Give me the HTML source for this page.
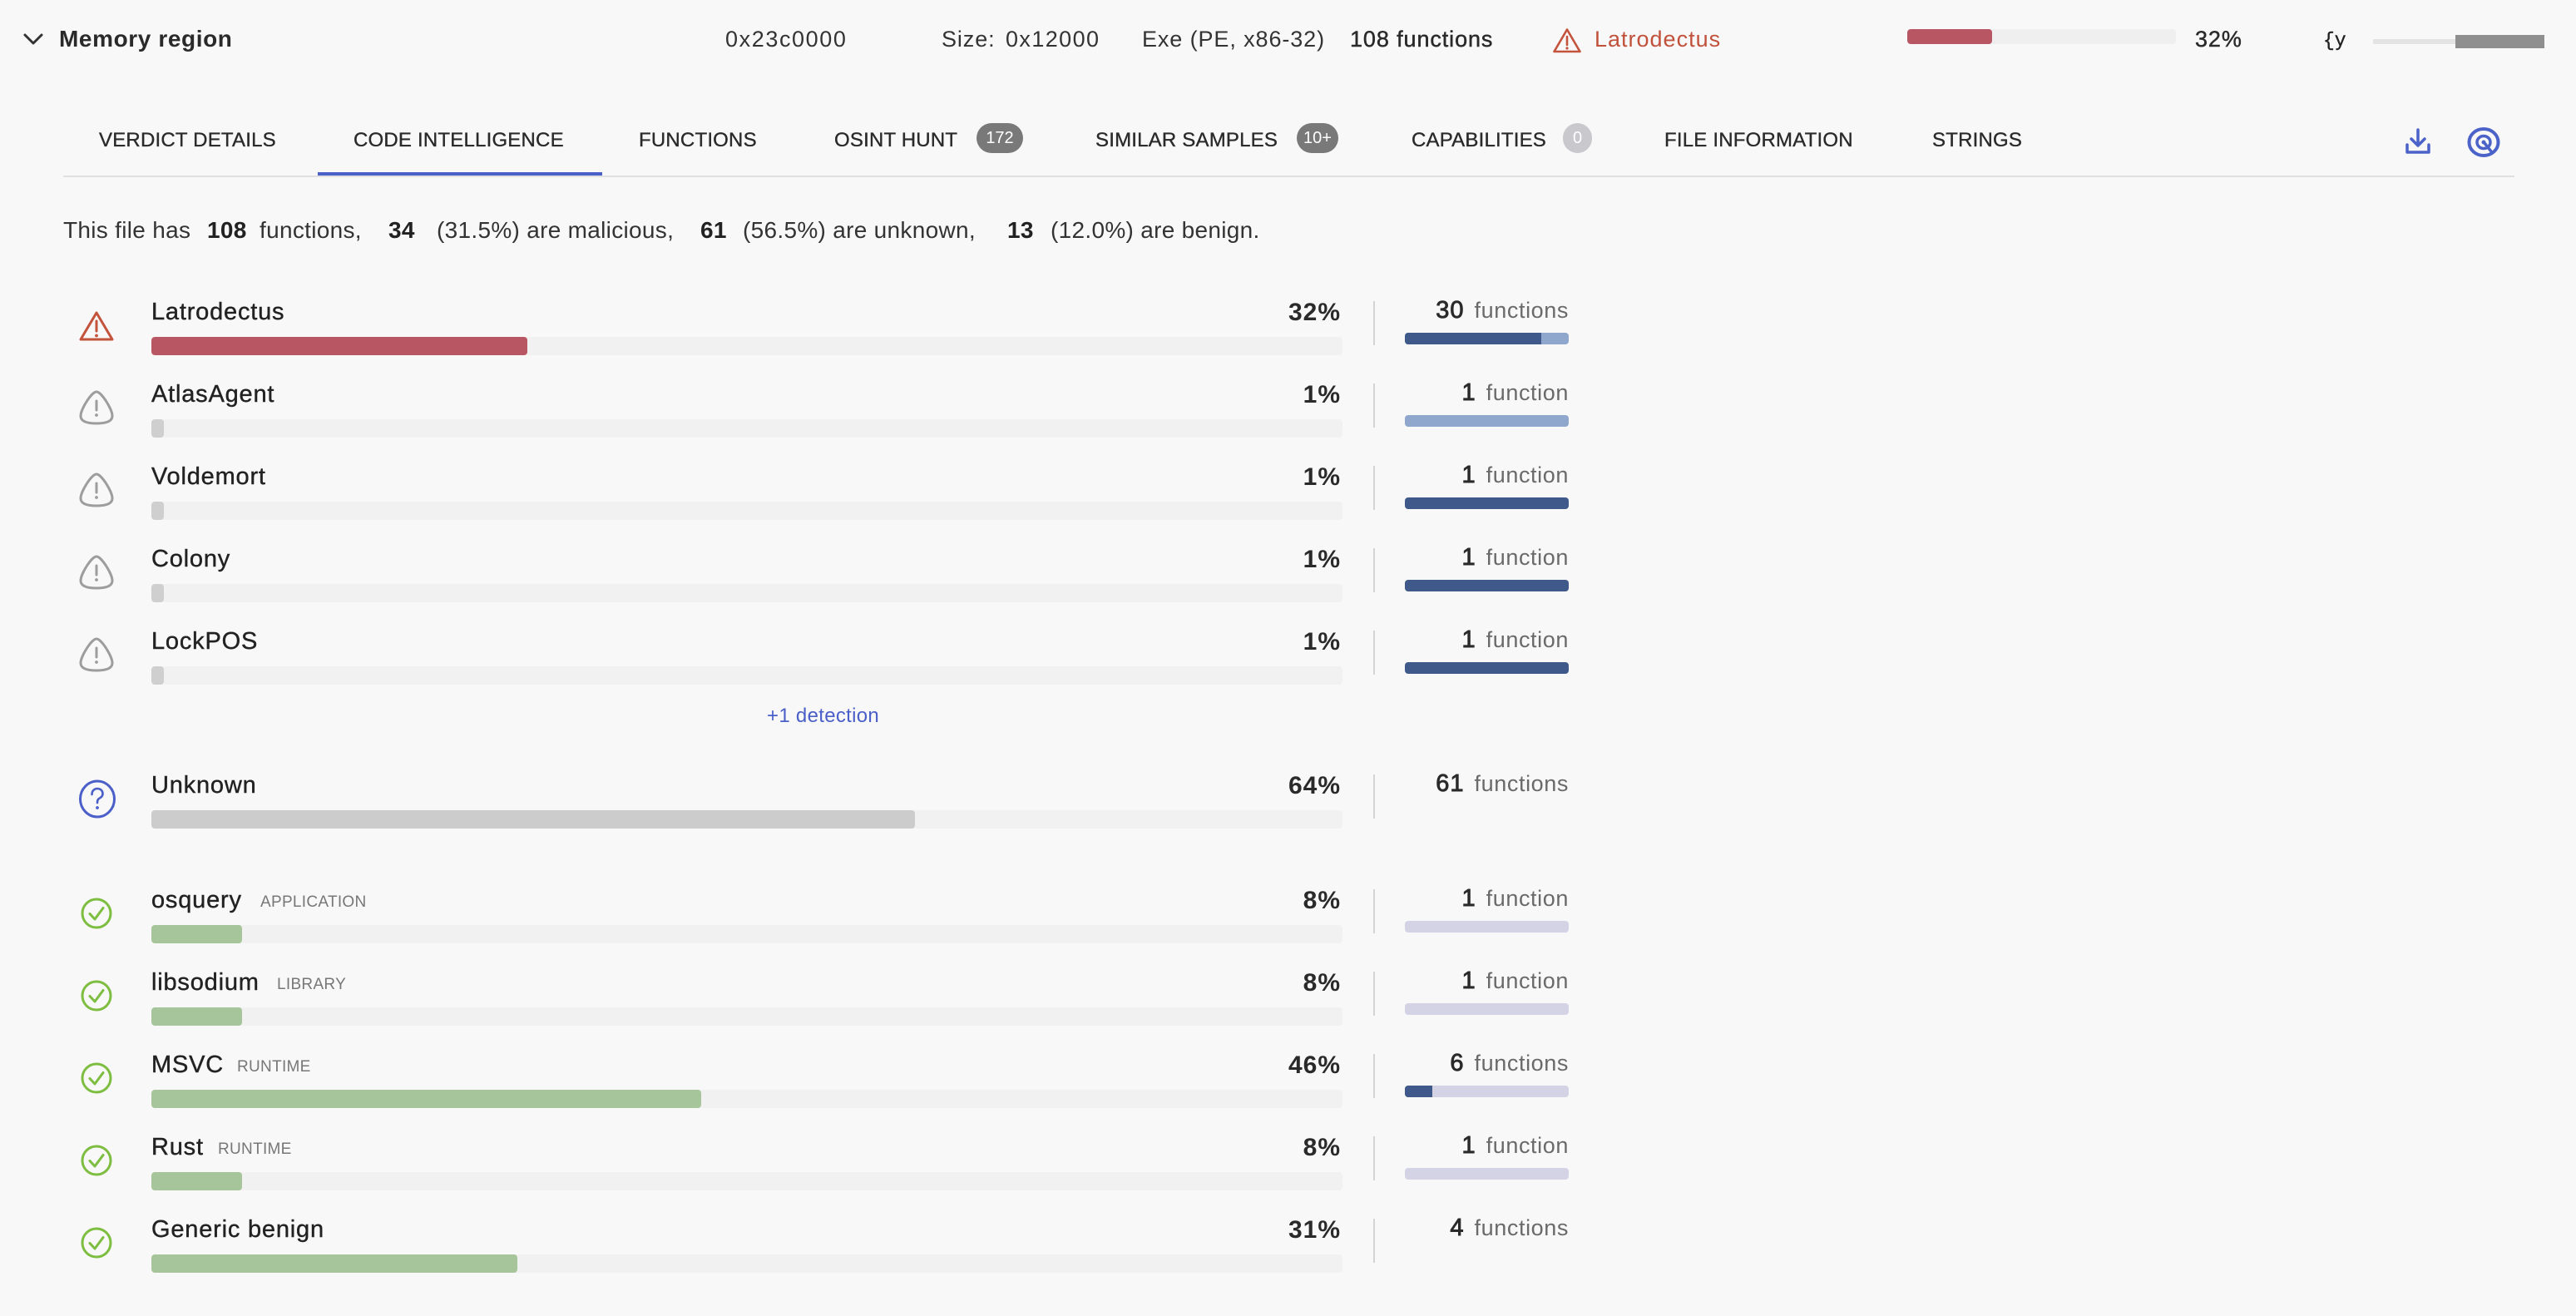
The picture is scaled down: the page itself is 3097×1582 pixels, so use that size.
<!DOCTYPE html>
<html><head><meta charset="utf-8">
<style>
html,body{margin:0;padding:0}
body{width:3097px;height:1582px;background:#f8f8f8;position:relative;overflow:hidden;font-family:"Liberation Sans",Arial,sans-serif;color:#2b2b2b}
.t{position:absolute;line-height:1;white-space:nowrap}
.m{-webkit-text-stroke:0.45px currentColor}
.hd{font-size:27px;letter-spacing:0.9px;color:#333;top:34px}
.tab{font-size:24px;top:157px;color:#2a2a2a;-webkit-text-stroke:0.35px #2a2a2a;letter-spacing:0.2px}
.badge{position:absolute;top:148px;height:36px;border-radius:18px;background:#797979;color:#fff;font-size:20px;line-height:36px;text-align:center}
.sum{font-size:28px;top:263px;color:#333;letter-spacing:0.3px}
.sum b{font-weight:bold;color:#222}
.name{font-size:29px;left:182px;color:#222;letter-spacing:0.8px;-webkit-text-stroke:0.4px #222}
.tag{font-size:19px;color:#777;letter-spacing:0.3px}
.pct{font-size:30px;font-weight:bold;right:1485px;color:#2a2a2a;letter-spacing:1px}
.track{position:absolute;left:182px;width:1432px;height:22px;background:#f1f1f1;border-radius:4px;overflow:hidden}
.fill{position:absolute;left:0;top:0;height:22px;border-radius:4px}
.div{position:absolute;left:1651px;width:2px;height:53px;background:#d4d4d4}
.cnt{position:absolute;right:1211px;font-size:29px;line-height:29px;white-space:nowrap;color:#2a2a2a}
.cnt .n{-webkit-text-stroke:0.9px #2a2a2a;letter-spacing:1px}
.cnt .f{font-size:27px;color:#6a6a6a;margin-left:12px;letter-spacing:0.6px}
.fb{position:absolute;left:1689px;width:197px;height:14px;border-radius:4px;overflow:hidden}
.fb i{position:absolute;left:0;top:0;height:14px;display:block}
.ic{position:absolute}
</style></head><body>

<!-- Header row -->
<svg class="ic" style="left:28px;top:39px" width="24" height="16" viewBox="0 0 24 16"><polyline points="2,3 12,13 22,3" fill="none" stroke="#333" stroke-width="3" stroke-linecap="round" stroke-linejoin="round"/></svg>
<div class="t" style="left:71px;top:33px;font-size:28px;font-weight:bold;color:#2a2a2a;letter-spacing:0.6px">Memory region</div>
<div class="t hd" style="left:872px;letter-spacing:1.6px">0x23c0000</div>
<div class="t hd" style="left:1132px">Size:</div>
<div class="t hd" style="left:1209px;letter-spacing:1.4px">0x12000</div>
<div class="t hd" style="left:1373px">Exe (PE, x86-32)</div>
<div class="t hd m" style="left:1623px;color:#2a2a2a">108 functions</div>
<svg class="ic" style="left:1866px;top:33px" width="36" height="31" viewBox="0 0 36 31"><path d="M18 2.5 L33.5 29 L2.5 29 Z" fill="none" stroke="#c4533b" stroke-width="2.6" stroke-linejoin="round"/><line x1="18" y1="11" x2="18" y2="21" stroke="#c4533b" stroke-width="2.6" stroke-linecap="round"/><circle cx="18" cy="25" r="1.6" fill="#c4533b"/></svg>
<div class="t hd" style="left:1917px;color:#c2513c;letter-spacing:1px">Latrodectus</div>
<div style="position:absolute;left:2293px;top:35px;width:323px;height:18px;background:#efefef;border-radius:4px;overflow:hidden"><div style="width:102px;height:18px;background:#b85763;border-radius:4px"></div></div>
<div class="t hd m" style="left:2639px;color:#2a2a2a">32%</div>
<div class="t" style="left:2793px;top:38px;font-size:23px;font-family:'Liberation Mono',monospace;color:#222;-webkit-text-stroke:0.4px #222">{y</div>
<div style="position:absolute;left:2853px;top:47px;width:100px;height:6px;background:#e3e3e3"></div>
<div style="position:absolute;left:2952px;top:42px;width:107px;height:16px;background:#8f8f8f"></div>

<!-- Tabs -->
<div class="t tab" style="left:119px">VERDICT DETAILS</div>
<div class="t tab" style="left:425px">CODE INTELLIGENCE</div>
<div class="t tab" style="left:768px">FUNCTIONS</div>
<div class="t tab" style="left:1003px">OSINT HUNT</div>
<div class="badge" style="left:1174px;width:56px">172</div>
<div class="t tab" style="left:1317px">SIMILAR SAMPLES</div>
<div class="badge" style="left:1559px;width:50px">10+</div>
<div class="t tab" style="left:1697px">CAPABILITIES</div>
<div class="badge" style="left:1879px;width:35px;background:#c8c8cd">0</div>
<div class="t tab" style="left:2001px">FILE INFORMATION</div>
<div class="t tab" style="left:2323px">STRINGS</div>
<svg class="ic" style="left:2890px;top:153px" width="34" height="34" viewBox="0 0 34 34"><path d="M4 21 V30 H30 V21" fill="none" stroke="#4b63c9" stroke-width="3.5" stroke-linecap="round" stroke-linejoin="round"/><line x1="17" y1="3" x2="17" y2="21" stroke="#4b63c9" stroke-width="3.5" stroke-linecap="round"/><polyline points="9,14 17,22 25,14" fill="none" stroke="#4b63c9" stroke-width="3.5" stroke-linecap="round" stroke-linejoin="round"/></svg>
<svg class="ic" style="left:2965px;top:152px" width="42" height="38" viewBox="0 0 42 38"><ellipse cx="21" cy="19" rx="17.5" ry="16" fill="none" stroke="#4b63c9" stroke-width="4"/><ellipse cx="21" cy="19" rx="8" ry="7.5" fill="none" stroke="#4b63c9" stroke-width="3.5"/><circle cx="21" cy="19" r="2.5" fill="#4b63c9"/><line x1="22" y1="20" x2="30" y2="30" stroke="#4b63c9" stroke-width="3.5" stroke-linecap="round"/></svg>
<div style="position:absolute;left:76px;top:211px;width:2947px;height:2px;background:#e0e0e0"></div>
<div style="position:absolute;left:382px;top:207px;width:342px;height:4px;background:#4a5fc8"></div>

<!-- Summary -->
<div class="t sum" style="left:76px">This file has</div>
<div class="t sum" style="left:249px"><b>108</b></div>
<div class="t sum" style="left:312px">functions,</div>
<div class="t sum" style="left:467px"><b>34</b></div>
<div class="t sum" style="left:525px">(31.5%) are malicious,</div>
<div class="t sum" style="left:842px"><b>61</b></div>
<div class="t sum" style="left:893px">(56.5%) are unknown,</div>
<div class="t sum" style="left:1211px"><b>13</b></div>
<div class="t sum" style="left:1263px">(12.0%) are benign.</div>

<!-- Row: Latrodectus B=405 -->
<svg class="ic" style="left:94px;top:373px" width="44" height="38" viewBox="0 0 44 38"><path d="M22 3 L41 35 L3 35 Z" fill="none" stroke="#c4533b" stroke-width="3" stroke-linejoin="round"/><line x1="22" y1="13" x2="22" y2="25" stroke="#c4533b" stroke-width="3" stroke-linecap="round"/><circle cx="22" cy="30.5" r="1.9" fill="#c4533b"/></svg>
<div class="t name" style="top:361px">Latrodectus</div>
<div class="t pct" style="top:361px">32%</div>
<div class="track" style="top:405px"><div class="fill" style="width:452px;background:#b85763"></div></div>
<div class="div" style="top:362px"></div>
<div class="cnt" style="top:359px"><span class="n">30</span><span class="f">functions</span></div>
<div class="fb" style="top:400px;background:#8fa7cc"><i style="width:164px;background:#3f5a8a"></i></div>

<!-- AtlasAgent B=504 -->
<svg class="ic" style="left:94px;top:468px" width="44" height="44" viewBox="0 0 44 44"><path d="M22 3 C28 3 41 24 41 32 C41 38 35 41 22 41 C9 41 3 38 3 32 C3 24 16 3 22 3 Z" fill="none" stroke="#9d9d9d" stroke-width="3"/><line x1="22" y1="14" x2="22" y2="25" stroke="#9d9d9d" stroke-width="3" stroke-linecap="round"/><circle cx="22" cy="31" r="1.9" fill="#9d9d9d"/></svg>
<div class="t name" style="top:460px">AtlasAgent</div>
<div class="t pct" style="top:460px">1%</div>
<div class="track" style="top:504px"><div class="fill" style="width:15px;background:#cfcfcf"></div></div>
<div class="div" style="top:461px"></div>
<div class="cnt" style="top:458px"><span class="n">1</span><span class="f">function</span></div>
<div class="fb" style="top:499px;background:#8fa7cc"></div>

<!-- Voldemort B=603 -->
<svg class="ic" style="left:94px;top:567px" width="44" height="44" viewBox="0 0 44 44"><path d="M22 3 C28 3 41 24 41 32 C41 38 35 41 22 41 C9 41 3 38 3 32 C3 24 16 3 22 3 Z" fill="none" stroke="#9d9d9d" stroke-width="3"/><line x1="22" y1="14" x2="22" y2="25" stroke="#9d9d9d" stroke-width="3" stroke-linecap="round"/><circle cx="22" cy="31" r="1.9" fill="#9d9d9d"/></svg>
<div class="t name" style="top:559px">Voldemort</div>
<div class="t pct" style="top:559px">1%</div>
<div class="track" style="top:603px"><div class="fill" style="width:15px;background:#cfcfcf"></div></div>
<div class="div" style="top:560px"></div>
<div class="cnt" style="top:557px"><span class="n">1</span><span class="f">function</span></div>
<div class="fb" style="top:598px;background:#3f5a8a"></div>

<!-- Colony B=702 -->
<svg class="ic" style="left:94px;top:666px" width="44" height="44" viewBox="0 0 44 44"><path d="M22 3 C28 3 41 24 41 32 C41 38 35 41 22 41 C9 41 3 38 3 32 C3 24 16 3 22 3 Z" fill="none" stroke="#9d9d9d" stroke-width="3"/><line x1="22" y1="14" x2="22" y2="25" stroke="#9d9d9d" stroke-width="3" stroke-linecap="round"/><circle cx="22" cy="31" r="1.9" fill="#9d9d9d"/></svg>
<div class="t name" style="top:658px">Colony</div>
<div class="t pct" style="top:658px">1%</div>
<div class="track" style="top:702px"><div class="fill" style="width:15px;background:#cfcfcf"></div></div>
<div class="div" style="top:659px"></div>
<div class="cnt" style="top:656px"><span class="n">1</span><span class="f">function</span></div>
<div class="fb" style="top:697px;background:#3f5a8a"></div>

<!-- LockPOS B=801 -->
<svg class="ic" style="left:94px;top:765px" width="44" height="44" viewBox="0 0 44 44"><path d="M22 3 C28 3 41 24 41 32 C41 38 35 41 22 41 C9 41 3 38 3 32 C3 24 16 3 22 3 Z" fill="none" stroke="#9d9d9d" stroke-width="3"/><line x1="22" y1="14" x2="22" y2="25" stroke="#9d9d9d" stroke-width="3" stroke-linecap="round"/><circle cx="22" cy="31" r="1.9" fill="#9d9d9d"/></svg>
<div class="t name" style="top:757px">LockPOS</div>
<div class="t pct" style="top:757px">1%</div>
<div class="track" style="top:801px"><div class="fill" style="width:15px;background:#cfcfcf"></div></div>
<div class="div" style="top:758px"></div>
<div class="cnt" style="top:755px"><span class="n">1</span><span class="f">function</span></div>
<div class="fb" style="top:796px;background:#3f5a8a"></div>

<div class="t" style="left:922px;top:849px;font-size:24px;color:#4a5fc8;letter-spacing:0.3px">+1 detection</div>

<!-- Unknown B=974 -->
<svg class="ic" style="left:94px;top:937px" width="46" height="47" viewBox="0 0 46 47"><ellipse cx="23" cy="23.5" rx="20.5" ry="21.5" fill="none" stroke="#4a5fc8" stroke-width="3"/><path d="M16.5 18 C16.5 13.5 19.5 11 23 11 C26.8 11 29.5 13.5 29.5 17 C29.5 20.5 27 21.8 25 23 C23.5 24 23 25.2 23 28" fill="none" stroke="#4a5fc8" stroke-width="2.6" stroke-linecap="round"/><circle cx="23" cy="34" r="1.9" fill="#4a5fc8"/></svg>
<div class="t name" style="top:930px">Unknown</div>
<div class="t pct" style="top:930px">64%</div>
<div class="track" style="top:974px"><div class="fill" style="width:918px;background:#cccccc"></div></div>
<div class="div" style="top:931px"></div>
<div class="cnt" style="top:928px"><span class="n">61</span><span class="f">functions</span></div>

<!-- osquery B=1112 -->
<svg class="ic" style="left:97px;top:1079px" width="38" height="38" viewBox="0 0 38 38"><circle cx="19" cy="19" r="17" fill="none" stroke="#7dbd3f" stroke-width="3"/><polyline points="11,19.5 17,26 27,12.5" fill="none" stroke="#7dbd3f" stroke-width="3" stroke-linecap="round" stroke-linejoin="round"/></svg>
<div class="t name" style="top:1068px">osquery</div>
<div class="t tag" style="left:313px;top:1075px">APPLICATION</div>
<div class="t pct" style="top:1068px">8%</div>
<div class="track" style="top:1112px"><div class="fill" style="width:109px;background:#a6c59a"></div></div>
<div class="div" style="top:1069px"></div>
<div class="cnt" style="top:1066px"><span class="n">1</span><span class="f">function</span></div>
<div class="fb" style="top:1107px;background:#d4d3e6"></div>

<!-- libsodium B=1211 -->
<svg class="ic" style="left:97px;top:1178px" width="38" height="38" viewBox="0 0 38 38"><circle cx="19" cy="19" r="17" fill="none" stroke="#7dbd3f" stroke-width="3"/><polyline points="11,19.5 17,26 27,12.5" fill="none" stroke="#7dbd3f" stroke-width="3" stroke-linecap="round" stroke-linejoin="round"/></svg>
<div class="t name" style="top:1167px">libsodium</div>
<div class="t tag" style="left:333px;top:1174px">LIBRARY</div>
<div class="t pct" style="top:1167px">8%</div>
<div class="track" style="top:1211px"><div class="fill" style="width:109px;background:#a6c59a"></div></div>
<div class="div" style="top:1168px"></div>
<div class="cnt" style="top:1165px"><span class="n">1</span><span class="f">function</span></div>
<div class="fb" style="top:1206px;background:#d4d3e6"></div>

<!-- MSVC B=1310 -->
<svg class="ic" style="left:97px;top:1277px" width="38" height="38" viewBox="0 0 38 38"><circle cx="19" cy="19" r="17" fill="none" stroke="#7dbd3f" stroke-width="3"/><polyline points="11,19.5 17,26 27,12.5" fill="none" stroke="#7dbd3f" stroke-width="3" stroke-linecap="round" stroke-linejoin="round"/></svg>
<div class="t name" style="top:1266px">MSVC</div>
<div class="t tag" style="left:285px;top:1273px">RUNTIME</div>
<div class="t pct" style="top:1266px">46%</div>
<div class="track" style="top:1310px"><div class="fill" style="width:661px;background:#a6c59a"></div></div>
<div class="div" style="top:1267px"></div>
<div class="cnt" style="top:1264px"><span class="n">6</span><span class="f">functions</span></div>
<div class="fb" style="top:1305px;background:#d4d3e6"><i style="width:33px;background:#3f5a8a"></i></div>

<!-- Rust B=1409 -->
<svg class="ic" style="left:97px;top:1376px" width="38" height="38" viewBox="0 0 38 38"><circle cx="19" cy="19" r="17" fill="none" stroke="#7dbd3f" stroke-width="3"/><polyline points="11,19.5 17,26 27,12.5" fill="none" stroke="#7dbd3f" stroke-width="3" stroke-linecap="round" stroke-linejoin="round"/></svg>
<div class="t name" style="top:1365px">Rust</div>
<div class="t tag" style="left:262px;top:1372px">RUNTIME</div>
<div class="t pct" style="top:1365px">8%</div>
<div class="track" style="top:1409px"><div class="fill" style="width:109px;background:#a6c59a"></div></div>
<div class="div" style="top:1366px"></div>
<div class="cnt" style="top:1363px"><span class="n">1</span><span class="f">function</span></div>
<div class="fb" style="top:1404px;background:#d4d3e6"></div>

<!-- Generic benign B=1508 -->
<svg class="ic" style="left:97px;top:1475px" width="38" height="38" viewBox="0 0 38 38"><circle cx="19" cy="19" r="17" fill="none" stroke="#7dbd3f" stroke-width="3"/><polyline points="11,19.5 17,26 27,12.5" fill="none" stroke="#7dbd3f" stroke-width="3" stroke-linecap="round" stroke-linejoin="round"/></svg>
<div class="t name" style="top:1464px">Generic benign</div>
<div class="t pct" style="top:1464px">31%</div>
<div class="track" style="top:1508px"><div class="fill" style="width:440px;background:#a6c59a"></div></div>
<div class="div" style="top:1465px"></div>
<div class="cnt" style="top:1462px"><span class="n">4</span><span class="f">functions</span></div>

</body></html>
